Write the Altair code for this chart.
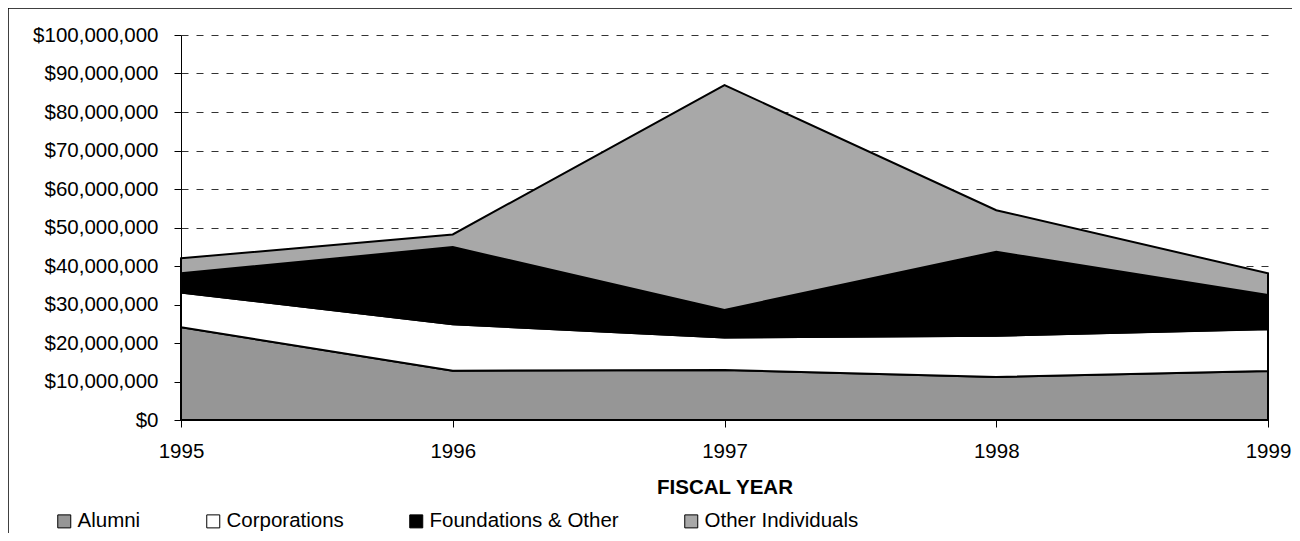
import altair as alt
import pandas as pd

years = [1995, 1996, 1997, 1998, 1999]
series = ["Alumni", "Corporations", "Foundations & Other", "Other Individuals"]
alumni = [24.1, 12.8, 13.0, 11.2, 12.7]
corporations = [9.0, 12.1, 8.4, 10.7, 10.9]
foundations = [5.0, 20.0, 7.2, 21.8, 8.9]
other_ind = [3.9, 3.3, 58.4, 10.8, 5.6]
colors = ["#969696", "#ffffff", "#000000", "#a8a8a8"]
y_ticks = [0, 10e6, 20e6, 30e6, 40e6, 50e6, 60e6, 70e6, 80e6, 90e6, 100e6]

rows = []
for si, (name, vals) in enumerate(zip(series, [alumni, corporations, foundations, other_ind])):
    for yr, v in zip(years, vals):
        rows.append({"year": yr, "series": name, "order": si, "amount": v * 1e6})
df = pd.DataFrame(rows)

W, H = 1087, 385
FONT = "Liberation Sans"

areas = alt.Chart(df).mark_area(stroke="black", strokeWidth=2, strokeJoin="miter").encode(
    x=alt.X("year:Q", scale=alt.Scale(domain=[1995, 1999], nice=False, zero=False),
            axis=alt.Axis(values=years, format="d", title="FISCAL YEAR", grid=False,
                          tickSize=7, labelPadding=14, titlePadding=16,
                          titleFontWeight="bold", titleFontSize=20.5, labelFontSize=20.5,
                          labelFlush=False)),
    y=alt.Y("amount:Q", stack="zero", scale=alt.Scale(domain=[0, 100e6], nice=False),
            axis=alt.Axis(values=y_ticks, format="$,.0f", title=None, grid=True,
                          gridDash=[7, 8], gridColor="#333333", gridWidth=1,
                          tickSize=7, labelPadding=16, labelFontSize=20.5)),
    fill=alt.Fill("series:N", scale=alt.Scale(domain=series, range=colors),
                  legend=alt.Legend(title=None, orient="none", legendX=-127, legendY=476,
                                    direction="horizontal", columnPadding=62,
                                    symbolType="square", symbolSize=169,
                                    symbolStrokeColor="black", symbolStrokeWidth=1,
                                    symbolOpacity=1, labelFontSize=20.5, labelOffset=3,
                                    labelFont=FONT, labelColor="black", labelLimit=400)),
    order=alt.Order("order:Q", sort="ascending"),
)

frame_data = alt.Data(values=[{"k": 1}])
top_rule = alt.Chart(frame_data).mark_rule(color="black", strokeWidth=1.5).encode(
    x=alt.value(-173), x2=alt.value(W + 40), y=alt.value(-27)
)
left_rule = alt.Chart(frame_data).mark_rule(color="black", strokeWidth=1.5).encode(
    x=alt.value(-173), y=alt.value(-27), y2=alt.value(H + 130)
)

chart = alt.layer(areas, top_rule, left_rule).properties(
    width=W, height=H,
    autosize=alt.AutoSizeParams(type="none"),
    padding={"left": 173, "top": 27, "right": 24, "bottom": 113},
    background="white",
).configure_view(stroke=None).configure_axis(
    labelFont=FONT, titleFont=FONT, labelColor="black", titleColor="black",
    domainColor="black", domainWidth=1, tickColor="black", tickWidth=1,
).configure_legend(labelFont=FONT)

chart.save("out.html", embed_options={"renderer": "svg", "actions": False})
